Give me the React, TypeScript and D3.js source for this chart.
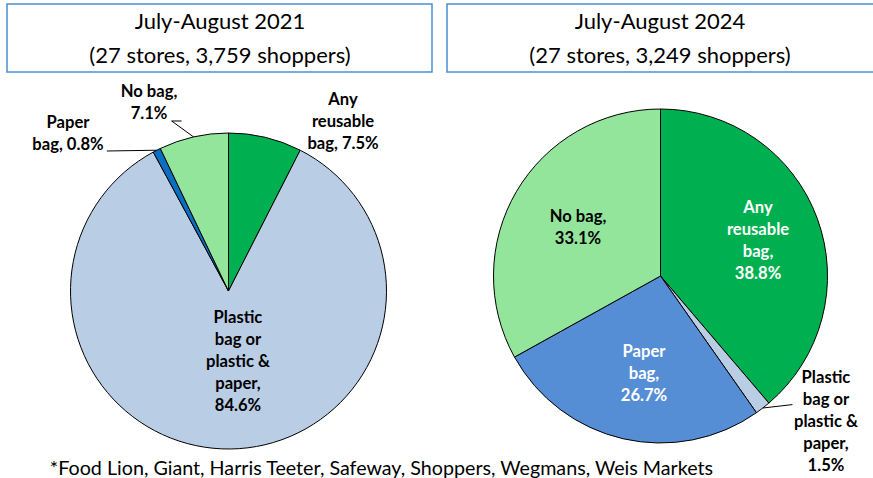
import React from "react";
import * as d3 from "d3";

// ---------- data ----------
const categories = ["Any reusable bag", "Plastic bag or plastic & paper", "Paper bag", "No bag"];
const values2021 = [7.5, 84.6, 0.8, 7.1];
const values2024 = [38.8, 1.5, 26.7, 33.1];
const titles2021 = ["July-August 2021", "(27 stores, 3,759 shoppers)"];
const titles2024 = ["July-August 2024", "(27 stores, 3,249 shoppers)"];
const labels2021 = [
  ["Any", "reusable", "bag, 7.5%"],
  ["Plastic", "bag or", "plastic &", "paper,", "84.6%"],
  ["Paper", "bag, 0.8%"],
  ["No bag,", "7.1%"],
];
const labels2024 = [
  ["Any", "reusable", "bag,", "38.8%"],
  ["Plastic", "bag or", "plastic &", "paper,", "1.5%"],
  ["Paper", "bag,", "26.7%"],
  ["No bag,", "33.1%"],
];
const footnote = "*Food Lion, Giant, Harris Teeter, Safeway, Shoppers, Wegmans, Weis Markets";

// ---------- styles ----------
const W = 873;
const H = 478;
const FONT = "Lato, 'Open Sans', sans-serif";
const colors2021 = ["#00B050", "#B9CDE5", "#0A6FC2", "#92E59A"];
const colors2024 = ["#00B050", "#B9CDE5", "#558ED5", "#92E59A"];
const textColors2024 = ["#FFFFFF", "#000000", "#FFFFFF", "#000000"];
const textColors2021 = ["#000000", "#000000", "#000000", "#000000"];

// label placement relative to pie centre, in units of the radius
type LabelLayout = { fx: number; fy: number; leader?: [number, number][] };
const layout2021: LabelLayout[] = [
  { fx: 0.725, fy: -1.07 },
  { fx: 0.06, fy: 0.446 },
  { fx: -1.016, fy: -0.994, leader: [[-0.77, -0.886]] },
  { fx: -0.503, fy: -1.193, leader: [[-0.36, -1.076], [-0.297, -1.076]] },
];
const layout2024: LabelLayout[] = [
  { fx: 0.584, fy: -0.21 },
  { fx: 0.991, fy: 0.874, leader: [[0.79, 0.77]] },
  { fx: -0.099, fy: 0.581 },
  { fx: -0.494, fy: -0.29 },
];

const LINE_H = 22;
const LABEL_SIZE = 16.6;

type PieProps = {
  values: number[];
  colors: string[];
  textColors: string[];
  labels: string[][];
  layout: LabelLayout[];
  cx: number;
  cy: number;
  r: number;
};

function Pie({ values, colors, textColors, labels, layout, cx, cy, r }: PieProps) {
  const pie = d3
    .pie<number>()
    .sort(null)
    .value((d) => d)
    .startAngle(0)
    .endAngle(2 * Math.PI);
  const arcs = pie(values);
  const arc = d3.arc<d3.PieArcDatum<number>>().innerRadius(0).outerRadius(r);

  return (
    <g transform={`translate(${cx},${cy})`}>
      {arcs.map((a, i) => (
        <path key={"s" + i} d={arc(a) || ""} fill={colors[i]} stroke="#000" strokeWidth={1} strokeLinejoin="round" />
      ))}
      {arcs.map((a, i) => {
        const L = layout[i];
        if (!L.leader) return null;
        const mid = (a.startAngle + a.endAngle) / 2;
        const px = r * Math.sin(mid);
        const py = -r * Math.cos(mid);
        const pts: [number, number][] = [[px, py], ...L.leader.map(([x, y]) => [x * r, y * r] as [number, number])];
        const line = d3.line()(pts.reverse());
        return <path key={"l" + i} d={line || ""} fill="none" stroke="#000" strokeWidth={1} />;
      })}
      {arcs.map((a, i) => {
        const L = layout[i];
        const lines = labels[i];
        const x = L.fx * r;
        const yc = L.fy * r;
        const y0 = yc - ((lines.length - 1) * LINE_H) / 2 + 5.5;
        return (
          <text
            key={"t" + i}
            x={x}
            y={y0}
            textAnchor="middle"
            fontFamily={FONT}
            fontWeight={700}
            fontSize={LABEL_SIZE}
            fill={textColors[i]}
          >
            {lines.map((ln, k) => (
              <tspan key={k} x={x} y={y0 + k * LINE_H}>
                {ln}
              </tspan>
            ))}
          </text>
        );
      })}
    </g>
  );
}

function TitleBox({ x, y, w, h, lines, cx }: { x: number; y: number; w: number; h: number; lines: string[]; cx: number }) {
  return (
    <g>
      <rect x={x} y={y} width={w} height={h} fill="#fff" stroke="#4A8FD3" strokeWidth={1.5} />
      {lines.map((ln, k) => (
        <text key={k} x={cx} y={28.5 + k * 34} textAnchor="middle" fontFamily={FONT} fontSize={22} fill="#000">
          {ln}
        </text>
      ))}
    </g>
  );
}

export default function App() {
  return (
    <svg
      width={W}
      height={H}
      viewBox={`0 0 ${W} ${H}`}
      style={{ position: "absolute", left: 0, top: 0, background: "#fff" }}
    >
      <rect x={0} y={0} width={W} height={H} fill="#fff" />
      <TitleBox x={7} y={4} w={425} h={68} lines={titles2021} cx={220} />
      <TitleBox x={447} y={4} w={440} h={68} lines={titles2024} cx={660} />
      <Pie
        values={values2021}
        colors={colors2021}
        textColors={textColors2021}
        labels={labels2021}
        layout={layout2021}
        cx={228.5}
        cy={291}
        r={158}
      />
      <Pie
        values={values2024}
        colors={colors2024}
        textColors={textColors2024}
        labels={labels2024}
        layout={layout2024}
        cx={660.5}
        cy={276}
        r={167}
      />
      <text x={381.5} y={475} textAnchor="middle" fontFamily={FONT} fontSize={19.7} fill="#000">
        {footnote}
      </text>
      <title>{categories.join(", ")}</title>
    </svg>
  );
}
